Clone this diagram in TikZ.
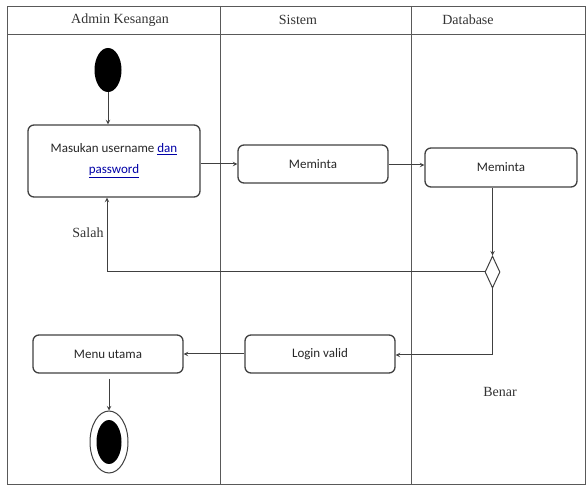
\documentclass[tikz,border=0pt]{standalone}
\usepackage{fontspec}
\setmainfont{Liberation Serif}
\newfontfamily\boxfont{Carlito}
\usetikzlibrary{positioning}
\usetikzlibrary{shapes}

\newcommand{\linktext}[1]{\textcolor{blue!65!black}{\underline{#1}}}

\begin{document}
\begin{tikzpicture}
                [
                    x=1pt, y=-1pt,
                    lane/.style = {draw=black!65, line width=0.9pt},
                    laneTitle/.style = {font=\fontsize{14}{16}\selectfont, text=black!80},
                    activity/.style = {rectangle, draw=black!75, line width=1.3pt, rounded corners=6pt, minimum width=150pt, minimum height=38pt, inner sep=0pt, align=center, text=black!85, font=\boxfont\fontsize{13}{15}\selectfont},
                    initial/.style = {ellipse, fill=black, minimum width=27pt, minimum height=44pt, inner sep=0pt},
                    final/.style = {ellipse, draw=black!75, line width=1pt, fill=white, minimum width=38pt, minimum height=62pt, inner sep=0pt},
                    decision/.style = {diamond, draw=black!75, line width=1pt, minimum width=15pt, minimum height=32pt, inner sep=0pt},
                    guard/.style = {font=\fontsize{14}{16}\selectfont, text=black!80},
                    arrow/.style = {draw=black!75, line width=1pt, ->, >=stealth}
                ]

                \useasboundingbox (0,0) rectangle (587,486);

                % swimlanes
                \draw[lane] (7,6) rectangle (585,484);
                \draw[lane] (7,34) -- (585,34);
                \draw[lane] (220,6) -- (220,484);
                \draw[lane] (411,6) -- (411,484);
                \node (laneAdmin) [laneTitle] at (120,20) {Admin Kesangan};
                \node (laneSistem) [laneTitle] at (298,20) {Sistem};
                \node (laneDb) [laneTitle] at (468,20) {Database};

                % activities
                \node (start) [initial] at (108,70) {};
                \node (input) [activity, minimum width=172pt, minimum height=72pt] at (114,161)
                    {Masukan username \linktext{dan}\\[6pt]\linktext{password}};
                \node (reqSistem) [activity] at (313,164) {Meminta};
                \node (reqDb) [activity, minimum width=152pt, minimum height=39pt] at (501,167.5) {Meminta};
                \node (check) [decision] at (492.5,272) {};
                \node (valid) [activity] at (320,354) {Login valid};
                \node (menu) [activity] at (108,354) {Menu utama};
                \node (end) [final] at (109,442) {};
                \node (endDot) [ellipse, fill=black, minimum width=25pt, minimum height=44pt, inner sep=0pt] at (109,442) {};

                \coordinate (salahCorner) at (107,272);
                \coordinate (benarCorner) at (492.5,355);

                \draw[arrow] (start) -- (start |- input.north);
                \draw[arrow] (input.east |- reqSistem) -- (reqSistem.west);
                \draw[arrow] (reqSistem.east |- 0,165) -- (reqDb.west |- 0,165);
                \draw[arrow] (reqDb.south -| check) -- (check.north);
                \draw[arrow] (check.west) -- (salahCorner) -- (salahCorner |- input.south);
                \draw[arrow] (check.south) -- (benarCorner) -- (valid.east |- benarCorner);
                \draw[arrow] (valid.west) -- (menu.east);
                \draw[arrow] (menu.south -| end) ++(0,5) -- (end.north);

                \node (salah) [guard] at (88,233) {Salah};
                \node (benar) [guard] at (500,392) {Benar};

            \end{tikzpicture}
\end{document}
